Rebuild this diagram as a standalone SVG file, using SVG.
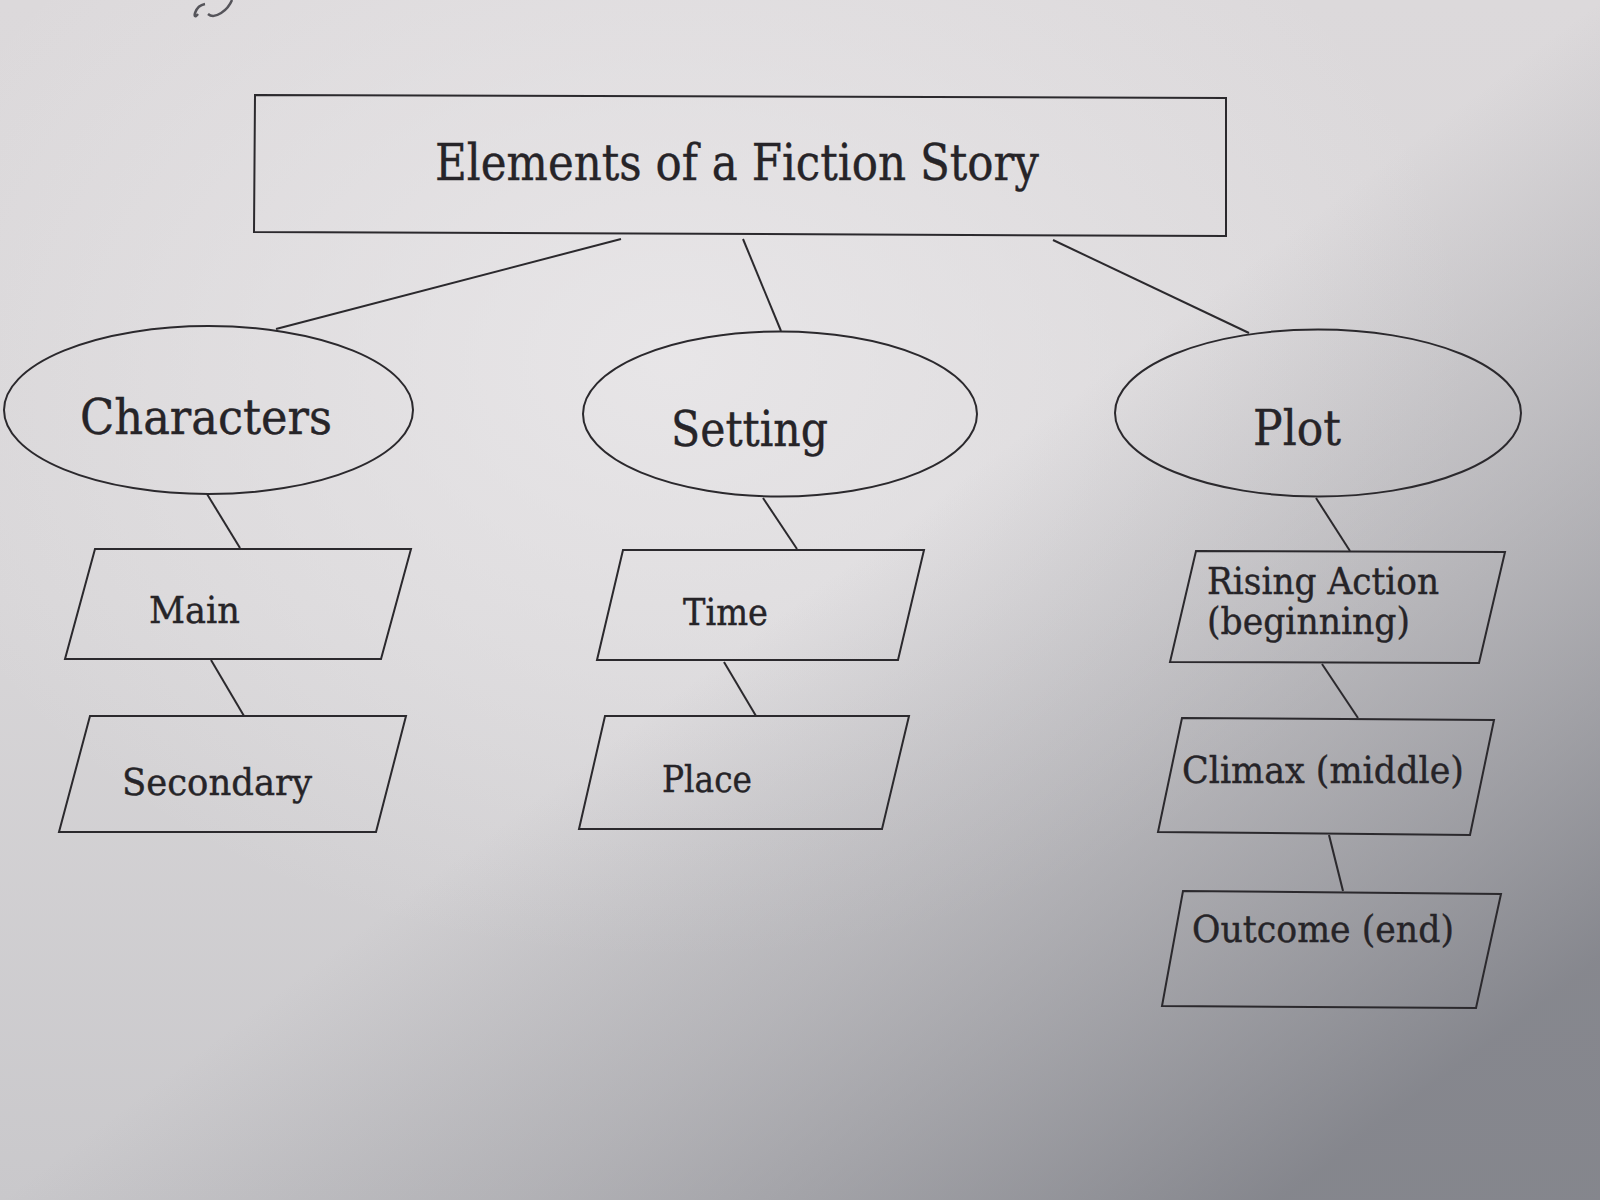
<svg xmlns="http://www.w3.org/2000/svg" width="1600" height="1200" viewBox="0 0 1600 1200">
<defs>
<linearGradient id="paper" x1="0" y1="0" x2="0" y2="1">
<stop offset="0" stop-color="#dcd9db"/>
<stop offset="0.5" stop-color="#d8d6d8"/>
<stop offset="1" stop-color="#c9c8cb"/>
</linearGradient>
<radialGradient id="light" cx="0.42" cy="0.3" r="0.5">
<stop offset="0" stop-color="#ebe9eb" stop-opacity="0.8"/>
<stop offset="1" stop-color="#ebe9eb" stop-opacity="0"/>
</radialGradient>
<linearGradient id="shade" x1="0.6" y1="0.4" x2="1" y2="0.8">
<stop offset="0" stop-color="#7d7e85" stop-opacity="0"/>
<stop offset="0.4" stop-color="#7d7e85" stop-opacity="0.3"/>
<stop offset="1" stop-color="#6e7078" stop-opacity="0.75"/>
</linearGradient>
</defs>
<style>
.shape{fill:none;stroke:#2b292d;stroke-width:2}
.conn line{stroke:#2b292d;stroke-width:2}
text{font-family:"DejaVu Serif","Liberation Serif",serif;fill:#262428;stroke:#262428;stroke-width:0.4}
.big{font-size:48px}
.mid{font-size:37px}
</style>
<rect width="1600" height="1200" fill="url(#paper)"/>
<rect width="1600" height="1200" fill="url(#light)"/>
<rect width="1600" height="1200" fill="url(#shade)"/>
<path d="M198,14 C192,22 194,6 205,4 M208,14 C215,20 228,10 232,0" fill="none" stroke="#55545a" stroke-width="2.5"/>

<g id="connectors" class="conn">
<line x1="621" y1="239" x2="276" y2="329"/>
<line x1="743" y1="239" x2="781" y2="331"/>
<line x1="1053" y1="240" x2="1249" y2="333"/>
<line x1="207" y1="494" x2="240" y2="548"/>
<line x1="211" y1="660" x2="244" y2="716"/>
<line x1="763" y1="498" x2="797" y2="549"/>
<line x1="724" y1="662" x2="756" y2="716"/>
<line x1="1316" y1="498" x2="1350" y2="551"/>
<line x1="1322" y1="664" x2="1358" y2="718"/>
<line x1="1329" y1="835" x2="1343" y2="891"/>
</g>

<g id="title">
<polygon class="shape" points="255,95 1226,98 1226,236 254,232"/>
<text x="435" y="180" font-size="50" textLength="604" lengthAdjust="spacingAndGlyphs">Elements of a Fiction Story</text>
</g>

<g id="characters">
<ellipse class="shape" cx="208.5" cy="410" rx="204.5" ry="84"/>
<text class="big" x="80" y="434" textLength="252" lengthAdjust="spacingAndGlyphs">Characters</text>
</g>
<g id="setting">
<ellipse class="shape" cx="780" cy="414" rx="197" ry="82.5"/>
<text class="big" x="671" y="446" textLength="157" lengthAdjust="spacingAndGlyphs">Setting</text>
</g>
<g id="plot">
<ellipse class="shape" cx="1318" cy="413" rx="203" ry="83.5"/>
<text class="big" x="1253" y="445" textLength="88" lengthAdjust="spacingAndGlyphs">Plot</text>
</g>

<g id="main">
<polygon class="shape" points="95,549 411,549 381,659 65,659"/>
<text class="mid" x="149" y="623" textLength="91" lengthAdjust="spacingAndGlyphs">Main</text>
</g>
<g id="secondary">
<polygon class="shape" points="90,716 406,716 376,832 59,832"/>
<text class="mid" x="122" y="795" textLength="190" lengthAdjust="spacingAndGlyphs">Secondary</text>
</g>
<g id="time">
<polygon class="shape" points="623,550 924,550 898,660 597,660"/>
<text class="mid" x="683" y="625" textLength="85" lengthAdjust="spacingAndGlyphs">Time</text>
</g>
<g id="place">
<polygon class="shape" points="605,716 909,716 882,829 579,829"/>
<text class="mid" x="662" y="792" textLength="90" lengthAdjust="spacingAndGlyphs">Place</text>
</g>
<g id="rising">
<polygon class="shape" points="1196,551 1505,552 1479,663 1170,662"/>
<text class="mid" x="1207" y="594" textLength="232" lengthAdjust="spacingAndGlyphs">Rising Action</text>
<text class="mid" x="1207" y="634" textLength="203" lengthAdjust="spacingAndGlyphs">(beginning)</text>
</g>
<g id="climax">
<polygon class="shape" points="1182,718 1494,720 1470,835 1158,832"/>
<text class="mid" x="1182" y="783" textLength="282" lengthAdjust="spacingAndGlyphs">Climax (middle)</text>
</g>
<g id="outcome">
<polygon class="shape" points="1183,891 1501,894 1476,1008 1162,1006"/>
<text class="mid" x="1192" y="942" textLength="262" lengthAdjust="spacingAndGlyphs">Outcome (end)</text>
</g>
</svg>
